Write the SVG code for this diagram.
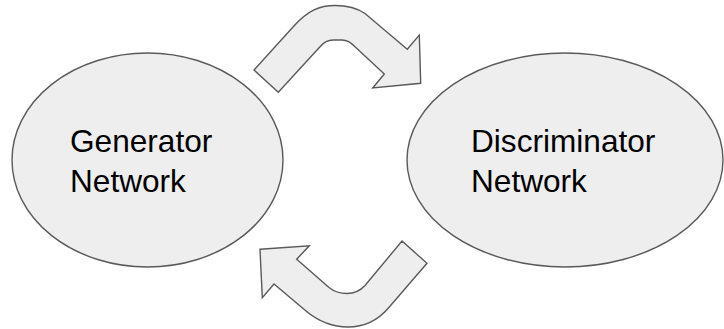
<svg xmlns="http://www.w3.org/2000/svg" width="724" height="329" viewBox="0 0 724 329">
  <style>
    .shape { fill: #eeeeee; stroke: #595959; stroke-width: 1.4; stroke-linejoin: miter; }
    .label { font-family: "Liberation Sans", Arial, sans-serif; font-size: 31.6px; fill: #000000; }
  </style>
  <rect width="724" height="329" fill="#ffffff"/>

  <g id="generator">
    <ellipse class="shape" cx="147.5" cy="160" rx="135.5" ry="107"/>
    <text class="label" x="70" y="152.3">Generator</text>
    <text class="label" x="70" y="191.7">Network</text>
  </g>

  <g id="discriminator">
    <ellipse class="shape" cx="565" cy="160" rx="158" ry="107"/>
    <text class="label" x="471" y="152.3">Discriminator</text>
    <text class="label" x="471" y="191.7">Network</text>
  </g>

  <g id="connectors">
    <!-- curved arrow: generator to discriminator -->
    <path class="shape" d="M 254,70 L 293,27 C 308,10 320,5.5 335,5.5 C 348,5.5 357,8 365,13.5 L 407.3,49.3 L 419.3,35 L 420.7,83.3 L 372.7,88 L 384.3,74 L 355,46.7 C 351,42.5 347,40 342,40 L 333,40 C 328,40 324,42 320,46.7 L 278.3,92.3 Z"/>
    <!-- curved arrow: discriminator back to generator -->
    <path class="shape" d="M 260,249.2 L 309.3,245.8 L 296.7,259.2 L 329,287.5 C 334,291.5 340,293.5 347,293.5 C 354,293.5 360,291 365,285.5 L 402,241 L 427,263.3 L 388,308.5 C 378,320 364,327 348,327 C 332,327 318,321 306,311 L 274,284 L 262.3,297.7 Z"/>
  </g>
</svg>
